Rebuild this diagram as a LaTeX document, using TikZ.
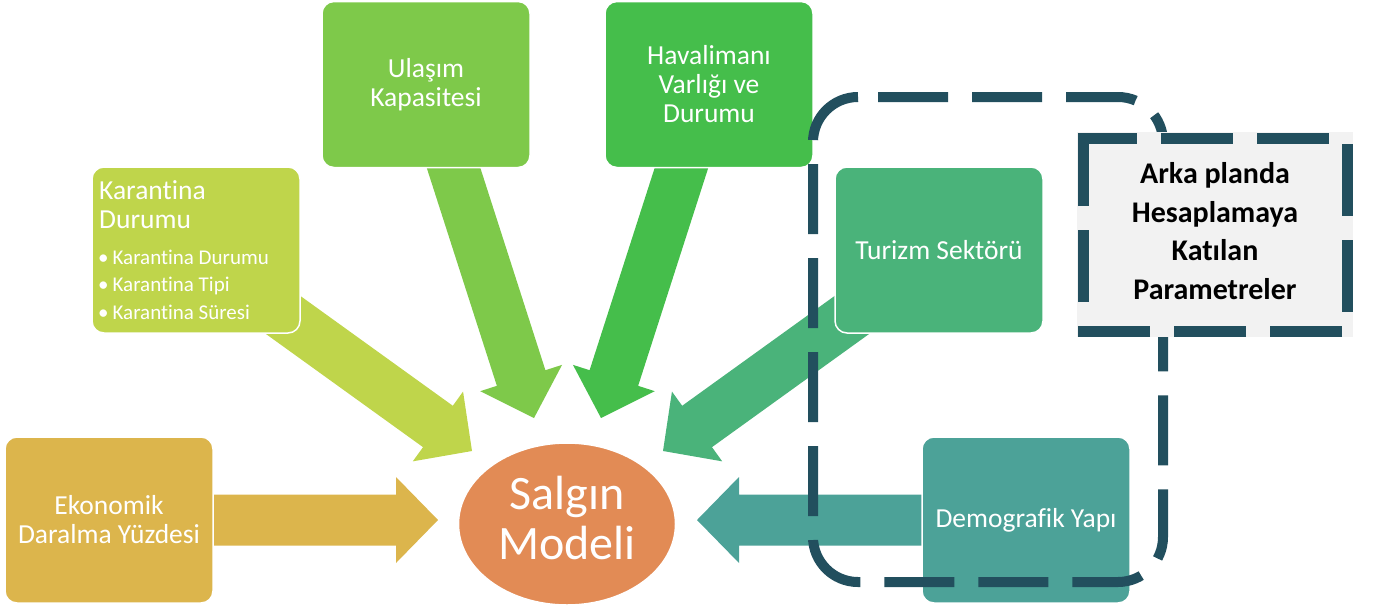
\documentclass[tikz,border=0pt]{standalone}
\usepackage{fontspec}
\setmainfont[RawFeature={-liga;-dlig}]{Carlito}
\usetikzlibrary{calc,shapes.geometric}
\definecolor{cEko}{HTML}{DCB54C}
\definecolor{cKar}{HTML}{BFD54B}
\definecolor{cUla}{HTML}{7EC94A}
\definecolor{cHav}{HTML}{45BE4B}
\definecolor{cTur}{HTML}{4AB37A}
\definecolor{cDem}{HTML}{4CA298}
\definecolor{cMod}{HTML}{E28B55}
\definecolor{cDash}{HTML}{224F5E}
\definecolor{cArka}{HTML}{F2F2F2}
\newcommand\blockarrow[3]{% color, tail, tip
  \coordinate (#2h) at ($(#3)!42pt!(#2)$);
  \fill[#1] ($(#2)!25.5pt!90:(#3)$) -- ($(#2h)!25.5pt!90:(#3)$) -- ($(#2h)!43pt!90:(#3)$)
    -- (#3) -- ($(#2h)!43pt!-90:(#3)$) -- ($(#2h)!25.5pt!-90:(#3)$) -- ($(#2)!25.5pt!-90:(#3)$) -- cycle;
}
\tikzset{
  box/.style={draw=white, line width=1.5pt, rounded corners=12pt, minimum width=208pt,
    minimum height=166pt, inner sep=0pt, text=white, align=center,
    font=\fontsize{27.5}{29}\selectfont},
  boxtext/.style={text=white, inner sep=0pt},
  dashline/.style={draw=cDash, line width=10pt, dash pattern=on 70pt off 24pt},
}
\begin{document}
\begin{tikzpicture}[x=1pt,y=-1pt]
\useasboundingbox (0,0) rectangle (1375,608);
% arrow end points
\coordinate (ekoT) at (150,520);  \coordinate (ekoP) at (438,520);
\coordinate (demT) at (985,520);  \coordinate (demP) at (697,520);
\coordinate (karT) at (261,299);  \coordinate (karP) at (472,451);
\coordinate (turT) at (874,299);  \coordinate (turP) at (663,451);
\coordinate (ulaT) at (442,132);  \coordinate (ulaP) at (534,418);
\coordinate (havT) at (693,132);  \coordinate (havP) at (601,418);
\blockarrow{cEko}{ekoT}{ekoP}
\blockarrow{cDem}{demT}{demP}
\blockarrow{cKar}{karT}{karP}
\blockarrow{cTur}{turT}{turP}
\blockarrow{cUla}{ulaT}{ulaP}
\blockarrow{cHav}{havT}{havP}
% boxes
\node[box, fill=cEko] (eko) at (109,520) {Ekonomik\\Daralma Yüzdesi};
\node[box, fill=cKar] (kar) at (196,250) {};
\node[box, fill=cUla] (ula) at (426,84.5) {Ulaşım\\Kapasitesi};
\node[box, fill=cHav] (hav) at (709,84.5) {Havalimanı\\Varlığı ve\\Durumu};
\node[box, fill=cTur] (tur) at (939,250) {Turizm Sektörü};
\node[box, fill=cDem] (dem) at (1026,520) {Demografik Yapı};
\node[boxtext, anchor=west, align=left, font=\fontsize{27.5}{29}\selectfont] (kartitle) at (99,204.5) {Karantina\\Durumu};
\node[boxtext, anchor=west, align=left, font=\fontsize{21}{27.5}\selectfont] (karlist) at (98,284.5)
  {•\hspace{4pt}Karantina Durumu\\•\hspace{4pt}Karantina Tipi\\•\hspace{4pt}Karantina Süresi};
% model
\node[ellipse, draw=white, line width=1.5pt, fill=cMod, minimum width=217pt, minimum height=162pt, inner sep=0pt] (model) at (567,524) {};
\node[boxtext, align=center, font=\fontsize{48}{50}\selectfont] (modeltext) at (567,518) {Salgın\\Modeli};
% dashed group
\draw[dashline, dash phase=74pt, rounded corners=45pt] (858,97) -- (1163,97) -- (1163,582) -- (813,582) -- (813,97) -- (858,97);
% side note
\node[fill=cArka, minimum width=276pt, minimum height=205pt, inner sep=0pt] (arka) at (1215,234.5) {};
\draw[draw=cDash, line width=11pt, dash pattern=on 72pt off 24pt] (1083,156) -- (1083,138) -- (1347,138) -- (1347,331) -- (1083,331) -- cycle;
\node[align=center, inner sep=0pt, font=\bfseries\fontsize{30}{38.5}\selectfont] (arkatext) at (1215,231)
  {Arka planda\\Hesaplamaya\\Katılan\\Parametreler};
\end{tikzpicture}
\end{document}
